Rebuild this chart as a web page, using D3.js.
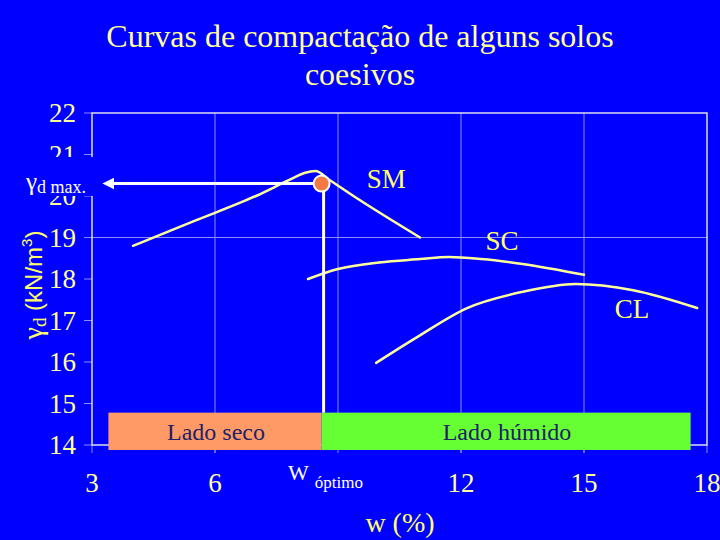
<!DOCTYPE html>
<html><head><meta charset="utf-8">
<script src="https://cdn.jsdelivr.net/npm/d3@7"></script>
<style>body{margin:0;background:#0000FF;}svg{display:block;}</style>
</head><body><svg id="c" width="720" height="540"></svg>
<script>
const xTicks = [3, 6, 12, 15, 18];
const xGrid = [6, 9, 12, 15];
const yTicks = [14, 15, 16, 17, 18, 19, 20, 21, 22];
const yGrid = [19];
const smData = [[4.0,18.8],[5.5,19.4],[7.0,20.0],[7.8,20.38],[8.2,20.56],[8.45,20.6],[8.8,20.38],[9.5,19.92],[11.0,19.0]];
const scData = [[8.27,18.0],[9.0,18.24],[10.0,18.4],[11.0,18.48],[11.7,18.53],[12.5,18.48],[13.5,18.36],[15.0,18.1]];
const clData = [[9.93,15.98],[10.93,16.6],[12.15,17.3],[13.5,17.69],[14.8,17.88],[16.2,17.73],[17.76,17.3]];
const curveNames = ["SM", "SC", "CL"];
const curveLabelPos = [[9.7,20.2],[12.6,18.7],[15.75,17.05]];
const wOpt = 8.6, gammaMax = 20.3;
const zones = [{name:"Lado seco", from:3.4, to:wOpt}, {name:"Lado húmido", from:wOpt, to:17.6}];
const zoneY = [14.78, 13.88];

const svg = d3.select("#c");
const x = d3.scaleLinear().domain([3,18]).range([92,707]);
const y = d3.scaleLinear().domain([14,22]).range([445,113]);
const pale = "#FFFF99";
const SERIF = "Liberation Serif";
const SANS = "Liberation Sans";
function T(sel, size, fam){ return sel.style("font-family", fam||SERIF).style("font-size", size+"px"); }

// title
T(svg.append("text").attr("x",360).attr("y",47).attr("text-anchor","middle").attr("fill",pale), 32)
  .text("Curvas de compactação de alguns solos");
T(svg.append("text").attr("x",360).attr("y",85).attr("text-anchor","middle").attr("fill",pale), 32)
  .text("coesivos");

// gridlines
const gcol = "#8C8CFF";
svg.selectAll(".vg").data(xGrid).join("line")
  .attr("x1",d=>x(d)).attr("x2",d=>x(d)).attr("y1",y(22)).attr("y2",y(14)+8)
  .attr("stroke",gcol).attr("stroke-width",1);
svg.selectAll(".hg").data(yGrid).join("line")
  .attr("x1",x(3)-8).attr("x2",x(18)).attr("y1",d=>y(d)).attr("y2",d=>y(d))
  .attr("stroke",gcol).attr("stroke-width",1);
svg.selectAll(".yt").data(yTicks).join("line")
  .attr("x1",x(3)-8).attr("x2",x(3)).attr("y1",d=>y(d)).attr("y2",d=>y(d))
  .attr("stroke",gcol).attr("stroke-width",1);
svg.selectAll(".xt").data(xTicks).join("line")
  .attr("x1",d=>x(d)).attr("x2",d=>x(d)).attr("y1",y(14)).attr("y2",y(14)+8)
  .attr("stroke",gcol).attr("stroke-width",1);
svg.append("rect").attr("x",x(3)).attr("y",y(22)).attr("width",x(18)-x(3)).attr("height",y(14)-y(22))
  .attr("fill","none").attr("stroke","#DDDDF0").attr("stroke-width",1.5);

// tick labels
T(svg.selectAll(".yl").data(yTicks).join("text")
  .attr("x",76).attr("y",d=>y(d)+9).attr("text-anchor","end").attr("fill",pale), 27).text(d=>d);
T(svg.selectAll(".xl").data(xTicks).join("text")
  .attr("x",d=>x(d)).attr("y",492).attr("text-anchor","middle").attr("fill",pale), 27).text(d=>d);

// curves
const line = d3.line().x(d=>x(d[0])).y(d=>y(d[1])).curve(d3.curveMonotoneX);
[smData, scData, clData].forEach(dat=>{
  svg.append("path").attr("d",line(dat)).attr("fill","none")
    .attr("stroke",pale).attr("stroke-width",2.5).attr("stroke-linecap","round");
});
curveNames.forEach((n,i)=>{
  T(svg.append("text").attr("x",x(curveLabelPos[i][0])).attr("y",y(curveLabelPos[i][1]))
    .attr("fill","#FFFF66"), 27).text(n);
});

// zones
zones.forEach((z,i)=>{
  svg.append("rect").attr("x",x(z.from)).attr("y",y(zoneY[0])).attr("width",x(z.to)-x(z.from))
    .attr("height",y(zoneY[1])-y(zoneY[0])).attr("fill",i===0?"#FF9966":"#66FF33");
  T(svg.append("text").attr("x",i===0?216:507).attr("y",y(zoneY[0])+27).attr("text-anchor","middle")
    .attr("fill","#1E2266"), 24).text(z.name);
});

// optimum marker + lines
svg.append("line").attr("x1",x(wOpt)+2).attr("x2",x(wOpt)+2).attr("y1",y(gammaMax)).attr("y2",y(zoneY[0]))
  .attr("stroke","white").attr("stroke-width",3);
svg.append("defs").append("marker").attr("id","ah").attr("viewBox","0 0 10 10")
  .attr("refX",2).attr("refY",5).attr("markerWidth",4).attr("markerHeight",4).attr("orient","auto-start-reverse")
  .append("path").attr("d","M0,0L10,5L0,10z").attr("fill","white");
svg.append("line").attr("x1",x(wOpt)).attr("x2",112).attr("y1",y(gammaMax)).attr("y2",y(gammaMax))
  .attr("stroke","white").attr("stroke-width",3).attr("marker-end","url(#ah)");
svg.append("circle").attr("cx",x(wOpt)).attr("cy",y(gammaMax)).attr("r",8)
  .attr("fill","#F47A45").attr("stroke","white").attr("stroke-width",2);

// gamma d max label with blue backing
svg.append("rect").attr("x",18).attr("y",157).attr("width",84).attr("height",39).attr("fill","#0000FF");
const gl = svg.append("text").attr("x",26).attr("y",190).attr("fill","white").style("font-family",SERIF);
gl.append("tspan").style("font-size","25px").text("γ");
gl.append("tspan").style("font-size","18px").attr("dy",3).text("d max.");

// W óptimo
const wl = svg.append("text").attr("x",288).attr("y",480).attr("fill","white").style("font-family",SERIF);
wl.append("tspan").style("font-size","22px").text("W");
wl.append("tspan").style("font-size","17px").attr("dx",6).attr("dy",8).text("óptimo");

// x axis title
T(svg.append("text").attr("x",400).attr("y",532).attr("text-anchor","middle")
  .attr("fill","#FFFF66"), 28).text("w (%)");

// y axis title
const yt = svg.append("text").attr("transform","translate(42,285) rotate(-90)").attr("text-anchor","middle")
  .attr("fill","#FFFF66");
T(yt.append("tspan"), 28).text("γ");
T(yt.append("tspan"), 19).attr("dy",4).text("d");
T(yt.append("tspan"), 24, SANS).attr("dy",-4).text(" (kN/m");
T(yt.append("tspan"), 15, SANS).attr("dy",-10).text("3");
T(yt.append("tspan"), 24, SANS).attr("dy",10).text(")");
</script></body></html>
